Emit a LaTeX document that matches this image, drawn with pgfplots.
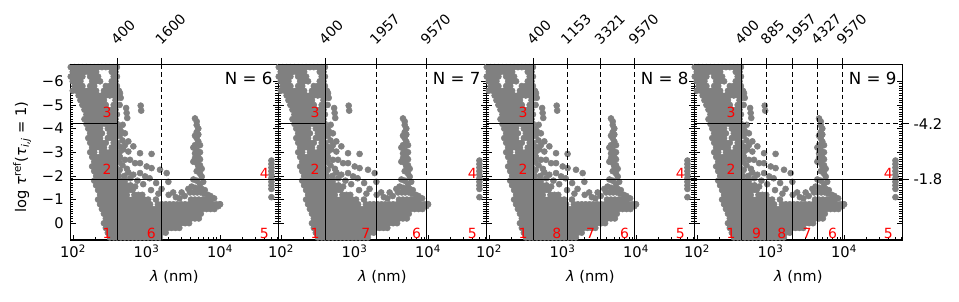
\documentclass[border=0pt]{standalone}
\usepackage{pgfplots}
\pgfplotsset{compat=1.18}
\usepackage{pgfplotstable}
\usepackage{fontspec}
\setmainfont{DejaVu Sans}
\definecolor{ptgray}{RGB}{128,128,128}
\definecolor{lblred}{RGB}{255,0,0}

\pgfplotstableread[row sep=\\]{
x y\\
93 -6.6\\ 105 -6.6\\ 119 -6.6\\ 134 -6.6\\ 152 -6.6\\ 171 -6.6\\ 194 -6.6\\ 219 -6.6\\ 247 -6.6\\ 279 -6.6\\ 316 -6.6\\ 357 -6.6\\ 395 -6.6\\
99 -6.4\\ 112 -6.4\\ 126 -6.4\\ 143 -6.4\\ 161 -6.4\\ 182 -6.4\\ 206 -6.4\\ 336 -6.4\\ 378 -6.4\\
93 -6.2\\ 105 -6.2\\ 119 -6.2\\ 134 -6.2\\ 171 -6.2\\ 194 -6.2\\ 219 -6.2\\ 357 -6.2\\ 395 -6.2\\
99 -6.0\\ 112 -6.0\\ 126 -6.0\\ 182 -6.0\\ 206 -6.0\\ 233 -6.0\\ 336 -6.0\\ 378 -6.0\\
105 -5.8\\ 119 -5.8\\ 134 -5.8\\ 171 -5.8\\ 194 -5.8\\ 279 -5.8\\ 316 -5.8\\ 357 -5.8\\ 395 -5.8\\
99 -5.6\\ 112 -5.6\\ 126 -5.6\\ 143 -5.6\\ 161 -5.6\\ 182 -5.6\\ 206 -5.6\\ 263 -5.6\\ 297 -5.6\\ 336 -5.6\\ 378 -5.6\\ 420 -5.6\\
119 -5.4\\ 134 -5.4\\ 152 -5.4\\ 171 -5.4\\ 194 -5.4\\ 219 -5.4\\ 247 -5.4\\ 279 -5.4\\ 316 -5.4\\ 357 -5.4\\ 395 -5.4\\
126 -5.2\\ 143 -5.2\\ 161 -5.2\\ 182 -5.2\\ 206 -5.2\\ 233 -5.2\\ 263 -5.2\\ 378 -5.2\\
134 -5.0\\ 152 -5.0\\ 171 -5.0\\ 194 -5.0\\ 219 -5.0\\ 247 -5.0\\ 279 -5.0\\ 357 -5.0\\ 395 -5.0\\
143 -4.8\\ 161 -4.8\\ 182 -4.8\\ 206 -4.8\\ 233 -4.8\\ 263 -4.8\\ 297 -4.8\\ 336 -4.8\\ 378 -4.8\\
152 -4.6\\ 171 -4.6\\ 194 -4.6\\ 219 -4.6\\ 247 -4.6\\ 279 -4.6\\ 316 -4.6\\ 357 -4.6\\ 395 -4.6\\
143 -4.4\\ 161 -4.4\\ 182 -4.4\\ 206 -4.4\\ 233 -4.4\\ 263 -4.4\\ 297 -4.4\\ 336 -4.4\\ 378 -4.4\\
152 -4.2\\ 171 -4.2\\ 194 -4.2\\ 219 -4.2\\ 247 -4.2\\ 279 -4.2\\ 316 -4.2\\ 357 -4.2\\ 395 -4.2\\
161 -4.0\\ 182 -4.0\\ 206 -4.0\\ 233 -4.0\\ 297 -4.0\\ 336 -4.0\\ 378 -4.0\\
171 -3.8\\ 194 -3.8\\ 219 -3.8\\ 247 -3.8\\ 316 -3.8\\ 357 -3.8\\ 395 -3.8\\
161 -3.6\\ 182 -3.6\\ 206 -3.6\\ 233 -3.6\\ 297 -3.6\\ 336 -3.6\\ 378 -3.6\\
171 -3.4\\ 194 -3.4\\ 219 -3.4\\ 247 -3.4\\ 279 -3.4\\ 357 -3.4\\ 395 -3.4\\
182 -3.2\\ 206 -3.2\\ 233 -3.2\\ 263 -3.2\\ 336 -3.2\\ 378 -3.2\\
171 -3.0\\ 194 -3.0\\ 247 -3.0\\ 279 -3.0\\ 316 -3.0\\ 357 -3.0\\ 395 -3.0\\
182 -2.8\\ 206 -2.8\\ 233 -2.8\\ 263 -2.8\\ 297 -2.8\\ 336 -2.8\\ 378 -2.8\\
194 -2.6\\ 219 -2.6\\ 247 -2.6\\ 279 -2.6\\ 316 -2.6\\ 357 -2.6\\ 395 -2.6\\
182 -2.4\\ 206 -2.4\\ 233 -2.4\\ 263 -2.4\\ 297 -2.4\\ 336 -2.4\\ 378 -2.4\\
194 -2.2\\ 219 -2.2\\ 247 -2.2\\ 279 -2.2\\ 316 -2.2\\ 357 -2.2\\ 395 -2.2\\
206 -2.0\\ 233 -2.0\\ 263 -2.0\\ 297 -2.0\\ 336 -2.0\\ 378 -2.0\\ 420 -2.0\\
194 -1.8\\ 219 -1.8\\ 247 -1.8\\ 279 -1.8\\ 316 -1.8\\ 357 -1.8\\ 395 -1.8\\ 446 -1.8\\ 504 -1.8\\
206 -1.6\\ 233 -1.6\\ 263 -1.6\\ 297 -1.6\\ 336 -1.6\\ 378 -1.6\\ 420 -1.6\\ 474 -1.6\\ 536 -1.6\\ 606 -1.6\\
219 -1.4\\ 247 -1.4\\ 279 -1.4\\ 316 -1.4\\ 357 -1.4\\ 395 -1.4\\ 446 -1.4\\ 504 -1.4\\ 570 -1.4\\ 644 -1.4\\
233 -1.2\\ 263 -1.2\\ 297 -1.2\\ 336 -1.2\\ 378 -1.2\\ 420 -1.2\\ 474 -1.2\\ 536 -1.2\\ 685 -1.2\\ 774 -1.2\\ 874 -1.2\\
219 -1.0\\ 247 -1.0\\ 279 -1.0\\ 316 -1.0\\ 357 -1.0\\ 395 -1.0\\ 446 -1.0\\ 504 -1.0\\ 570 -1.0\\ 644 -1.0\\ 727 -1.0\\ 822 -1.0\\ 929 -1.0\\ 1050 -1.0\\ 1340 -1.0\\ 4026 -1.0\\ 4549 -1.0\\ 5140 -1.0\\ 5808 -1.0\\ 6563 -1.0\\ 7417 -1.0\\
233 -0.8\\ 263 -0.8\\ 297 -0.8\\ 336 -0.8\\ 378 -0.8\\ 420 -0.8\\ 474 -0.8\\ 536 -0.8\\ 606 -0.8\\ 685 -0.8\\ 774 -0.8\\ 874 -0.8\\ 988 -0.8\\ 1116 -0.8\\ 1425 -0.8\\ 1610 -0.8\\ 1820 -0.8\\ 2056 -0.8\\ 2324 -0.8\\ 2626 -0.8\\ 2967 -0.8\\ 3353 -0.8\\ 3789 -0.8\\ 4281 -0.8\\ 4838 -0.8\\ 5467 -0.8\\ 6177 -0.8\\ 6980 -0.8\\ 7888 -0.8\\ 8913 -0.8\\ 9900 -0.8\\
247 -0.6\\ 279 -0.6\\ 316 -0.6\\ 357 -0.6\\ 395 -0.6\\ 446 -0.6\\ 504 -0.6\\ 570 -0.6\\ 644 -0.6\\ 727 -0.6\\ 822 -0.6\\ 929 -0.6\\ 1050 -0.6\\ 1186 -0.6\\ 1340 -0.6\\ 1514 -0.6\\ 1711 -0.6\\ 1934 -0.6\\ 2185 -0.6\\ 2469 -0.6\\ 2790 -0.6\\ 3153 -0.6\\ 3563 -0.6\\ 4026 -0.6\\ 4549 -0.6\\ 5140 -0.6\\ 5808 -0.6\\ 6563 -0.6\\ 7417 -0.6\\ 8381 -0.6\\
263 -0.4\\ 297 -0.4\\ 336 -0.4\\ 378 -0.4\\ 420 -0.4\\ 474 -0.4\\ 536 -0.4\\ 606 -0.4\\ 685 -0.4\\ 774 -0.4\\ 874 -0.4\\ 988 -0.4\\ 1116 -0.4\\ 1261 -0.4\\ 1425 -0.4\\ 1610 -0.4\\ 1820 -0.4\\ 2056 -0.4\\ 2324 -0.4\\ 2626 -0.4\\ 2967 -0.4\\ 3353 -0.4\\ 3789 -0.4\\ 4281 -0.4\\ 4838 -0.4\\ 5467 -0.4\\
279 -0.2\\ 316 -0.2\\ 357 -0.2\\ 395 -0.2\\ 446 -0.2\\ 504 -0.2\\ 570 -0.2\\ 644 -0.2\\ 727 -0.2\\ 822 -0.2\\ 929 -0.2\\ 1050 -0.2\\ 1186 -0.2\\ 1340 -0.2\\ 1514 -0.2\\ 1711 -0.2\\ 1934 -0.2\\ 2185 -0.2\\ 2469 -0.2\\ 2790 -0.2\\ 3153 -0.2\\ 3563 -0.2\\ 4026 -0.2\\ 4549 -0.2\\ 5140 -0.2\\
263 0.0\\ 297 0.0\\ 336 0.0\\ 378 0.0\\ 420 0.0\\ 474 0.0\\ 536 0.0\\ 606 0.0\\ 685 0.0\\ 774 0.0\\ 874 0.0\\ 988 0.0\\ 1116 0.0\\ 1261 0.0\\ 1425 0.0\\ 1610 0.0\\ 1820 0.0\\ 2056 0.0\\ 2324 0.0\\ 2626 0.0\\ 2967 0.0\\ 3353 0.0\\ 3789 0.0\\
279 0.2\\ 316 0.2\\ 357 0.2\\ 395 0.2\\ 446 0.2\\ 504 0.2\\ 570 0.2\\ 644 0.2\\ 727 0.2\\ 822 0.2\\ 929 0.2\\ 1050 0.2\\ 1186 0.2\\ 1340 0.2\\ 1514 0.2\\ 1711 0.2\\ 1934 0.2\\ 2185 0.2\\ 2469 0.2\\ 2790 0.2\\
297 0.4\\ 336 0.4\\ 378 0.4\\ 420 0.4\\ 474 0.4\\ 536 0.4\\ 606 0.4\\ 685 0.4\\ 774 0.4\\ 874 0.4\\ 988 0.4\\ 1116 0.4\\ 1261 0.4\\ 1425 0.4\\ 1610 0.4\\ 1820 0.4\\
316 0.6\\ 357 0.6\\ 395 0.6\\ 446 0.6\\ 504 0.6\\ 570 0.6\\ 644 0.6\\ 727 0.6\\ 822 0.6\\ 929 0.6\\ 1050 0.6\\ 1186 0.6\\ 1340 0.6\\ 1514 0.6\\
9470 -0.72\\ 10000 -0.8\\
435 -5.5\\ 445 -5.3\\ 430 -5.0\\ 527 -4.87\\ 536 -4.66\\ 546 -4.45\\ 832 -4.97\\ 845 -4.76\\ 473 -4.16\\ 425 -4.0\\ 445 -3.9\\ 507 -3.8\\ 430 -3.7\\ 470 -3.5\\ 565 -3.46\\ 507 -3.3\\ 425 -3.25\\ 661 -3.25\\ 483 -3.12\\ 565 -3.03\\ 430 -3.0\\ 815 -2.96\\ 1170 -2.93\\ 435 -2.8\\ 507 -2.68\\ 595 -2.68\\ 425 -2.6\\ 698 -2.54\\ 815 -2.54\\ 470 -2.45\\ 1004 -2.4\\ 1170 -2.33\\ 540 -2.3\\ 1524 -2.26\\ 430 -2.25\\ 565 -2.15\\ 815 -2.12\\ 1878 -2.12\\ 661 -2.05\\ 955 -1.98\\ 500 -2.0\\ 600 -1.9\\ 750 -1.8\\ 1100 -1.9\\ 900 -1.65\\ 1350 -1.7\\ 700 -1.55\\ 1600 -1.45\\ 1150 -1.4\\ 2000 -1.2\\ 1450 -1.25\\ 2500 -1.1\\ 2300 -1.3\\ 2800 -1.05\\ 3000 -1.3\\ 3700 -1.45\\ 3300 -1.15\\ 1980 -1.75\\
4560 -4.43\\ 4810 -4.3\\ 4810 -4.15\\ 5060 -4.0\\ 4810 -3.85\\ 5060 -3.75\\ 4560 -3.7\\ 4800 -3.6\\ 5060 -3.45\\ 4560 -3.3\\ 5335 -3.3\\ 4330 -3.2\\ 4810 -3.1\\ 5335 -3.0\\ 4560 -2.95\\ 5060 -2.8\\ 4560 -2.75\\ 5335 -2.7\\ 4330 -2.6\\ 4810 -2.55\\ 5335 -2.45\\ 5060 -2.4\\ 5630 -2.3\\ 4810 -2.2\\ 5335 -2.1\\ 5630 -1.97\\ 4330 -1.85\\ 4800 -1.8\\ 5900 -1.75\\ 5335 -1.65\\ 4100 -1.55\\ 4560 -1.5\\ 5060 -1.45\\ 5630 -1.45\\ 6200 -1.4\\ 3900 -1.3\\ 4400 -1.3\\ 4900 -1.3\\ 5500 -1.3\\ 6100 -1.25\\ 6800 -1.2\\ 7400 -1.15\\ 8300 -1.05\\
50000 -2.65\\ 50000 -2.5\\ 50000 -2.35\\ 50000 -2.2\\ 50000 -2.05\\ 50000 -1.9\\ 50000 -1.75\\ 50000 -1.6\\ 50000 -1.45\\ 50000 -1.1\\
}\cloud

\tikzset{
  sline/.style={black, line width=0.6pt},
  dline/.style={black, line width=0.6pt, dash pattern=on 3.3pt off 2.4pt},
  rlab/.style={anchor=south east, inner sep=0pt, text=lblred, font=\fontsize{10.5}{12}\selectfont, xshift=-4.1pt},
  rrlab/.style={anchor=south east, inner sep=0pt, text=lblred, font=\fontsize{10.5}{12}\selectfont},
  nlab/.style={anchor=north east, inner sep=0pt, font=\fontsize{12.5}{15}\selectfont, xshift=-4.2pt, yshift=-5.4pt},
}

\begin{document}
\begin{tikzpicture}
\path[use as bounding box] (0pt,-226.5pt) rectangle (719.25pt,0pt);

% ---------- Panel N = 6 ----------
\begin{axis}[at={(52.725pt,-180pt)}, anchor=south west,
    scale only axis, width=156pt, height=131.625pt,
    xmode=log, xmin=91.7, xmax=62000,
    ymin=-6.71, ymax=0.71, y dir=reverse,
    xtick={100,1000,10000},
    xticklabels={10\textsuperscript{2},10\textsuperscript{3},10\textsuperscript{4}},
    minor xtick={200,300,400,500,600,700,800,900,2000,3000,4000,5000,6000,7000,8000,9000,20000,30000,40000,50000,60000},
    ytick={-6,-5,-4,-3,-2,-1,0},
    minor y tick num=9,
    xtick pos=bottom, ytick pos=both, tick align=inside,
    major tick length=4pt, minor tick length=2.3pt,
    every tick/.style={black, line width=0.5pt},
    axis line style={line width=1.0pt},
    tick label style={font=\fontsize{11}{13}\selectfont},
    yticklabel style={xshift=-1.5pt},
    label style={font=\fontsize{11}{13}\selectfont},
    xlabel={\textit{λ} (nm)},
    xlabel style={at={(axis description cs:0.5,-0.211)}, anchor=center},
    yticklabels={−6,−5,−4,−3,−2,−1,0},
    ylabel={log \textit{τ}\textsuperscript{ref}(\textit{τ}\textsubscript{\textit{i,j}} = 1)},
    ylabel style={at={(axis description cs:-0.232,0.473)}, anchor=center}]
\addplot[only marks, mark=*, mark size=2.25pt, color=ptgray] table {\cloud};
\end{axis}
\begin{axis}[at={(52.725pt,-180pt)}, anchor=south west,
    scale only axis, width=156pt, height=131.625pt,
    xmode=log, xmin=91.7, xmax=62000,
    ymin=-6.71, ymax=0.71, y dir=reverse,
    axis x line*=top, hide y axis, xminorticks=false,
    tick align=outside, major tick length=5pt,
    every tick/.style={black, line width=0.6pt},
    axis line style={line width=1.0pt},
    xticklabel shift=4.5pt,
    xticklabel style={rotate=45, anchor=south west, font=\fontsize{10.5}{12.5}\selectfont},
    xtick={400,1600}, xticklabels={400,1600}]
\addplot[sline] coordinates {(400,-6.71) (400,0.71)};
\addplot[sline] coordinates {(91.7,-4.2) (400,-4.2)};
\addplot[sline] coordinates {(91.7,-1.85) (62000,-1.85)};
\addplot[dline] coordinates {(1600,-6.71) (1600,-1.85)};
\addplot[sline] coordinates {(1600,-1.85) (1600,0.71)};
\node[rlab] at (axis cs:400,-4.43) {3};
\node[rlab] at (axis cs:400,-2.03) {2};
\node[rlab] at (axis cs:400,0.647) {1};
\node[rlab] at (axis cs:1600,0.647) {6};
\node[rrlab] at (axis cs:46500,-1.89) {4};
\node[rrlab] at (axis cs:46500,0.647) {5};
\node[nlab] at (rel axis cs:1,1) {N = 6};
\end{axis}

% ---------- Panel N = 7 ----------
\begin{axis}[at={(208.725pt,-180pt)}, anchor=south west,
    scale only axis, width=156pt, height=131.625pt,
    xmode=log, xmin=91.7, xmax=62000,
    ymin=-6.71, ymax=0.71, y dir=reverse,
    xtick={100,1000,10000},
    xticklabels={10\textsuperscript{2},10\textsuperscript{3},10\textsuperscript{4}},
    minor xtick={200,300,400,500,600,700,800,900,2000,3000,4000,5000,6000,7000,8000,9000,20000,30000,40000,50000,60000},
    ytick={-6,-5,-4,-3,-2,-1,0},
    minor y tick num=9,
    xtick pos=bottom, ytick pos=both, tick align=inside,
    major tick length=4pt, minor tick length=2.3pt,
    every tick/.style={black, line width=0.5pt},
    axis line style={line width=1.0pt},
    tick label style={font=\fontsize{11}{13}\selectfont},
    label style={font=\fontsize{11}{13}\selectfont},
    xlabel={\textit{λ} (nm)},
    xlabel style={at={(axis description cs:0.5,-0.211)}, anchor=center},
    yticklabels={}]
\addplot[only marks, mark=*, mark size=2.25pt, color=ptgray] table {\cloud};
\end{axis}
\begin{axis}[at={(208.725pt,-180pt)}, anchor=south west,
    scale only axis, width=156pt, height=131.625pt,
    xmode=log, xmin=91.7, xmax=62000,
    ymin=-6.71, ymax=0.71, y dir=reverse,
    axis x line*=top, hide y axis, xminorticks=false,
    tick align=outside, major tick length=5pt,
    every tick/.style={black, line width=0.6pt},
    axis line style={line width=1.0pt},
    xticklabel shift=4.5pt,
    xticklabel style={rotate=45, anchor=south west, font=\fontsize{10.5}{12.5}\selectfont},
    xtick={400,1957,9570}, xticklabels={400,1957,9570}]
\addplot[sline] coordinates {(400,-6.71) (400,0.71)};
\addplot[sline] coordinates {(91.7,-4.2) (400,-4.2)};
\addplot[sline] coordinates {(91.7,-1.85) (62000,-1.85)};
\addplot[dline] coordinates {(1957,-6.71) (1957,-1.85)};
\addplot[sline] coordinates {(1957,-1.85) (1957,0.71)};
\addplot[dline] coordinates {(9570,-6.71) (9570,-1.85)};
\addplot[sline] coordinates {(9570,-1.85) (9570,0.71)};
\node[rlab] at (axis cs:400,-4.43) {3};
\node[rlab] at (axis cs:400,-2.03) {2};
\node[rlab] at (axis cs:400,0.647) {1};
\node[rlab] at (axis cs:1957,0.647) {7};
\node[rlab] at (axis cs:9570,0.647) {6};
\node[rrlab] at (axis cs:46500,-1.89) {4};
\node[rrlab] at (axis cs:46500,0.647) {5};
\node[nlab] at (rel axis cs:1,1) {N = 7};
\end{axis}

% ---------- Panel N = 8 ----------
\begin{axis}[at={(364.725pt,-180pt)}, anchor=south west,
    scale only axis, width=156pt, height=131.625pt,
    xmode=log, xmin=91.7, xmax=62000,
    ymin=-6.71, ymax=0.71, y dir=reverse,
    xtick={100,1000,10000},
    xticklabels={10\textsuperscript{2},10\textsuperscript{3},10\textsuperscript{4}},
    minor xtick={200,300,400,500,600,700,800,900,2000,3000,4000,5000,6000,7000,8000,9000,20000,30000,40000,50000,60000},
    ytick={-6,-5,-4,-3,-2,-1,0},
    minor y tick num=9,
    xtick pos=bottom, ytick pos=both, tick align=inside,
    major tick length=4pt, minor tick length=2.3pt,
    every tick/.style={black, line width=0.5pt},
    axis line style={line width=1.0pt},
    tick label style={font=\fontsize{11}{13}\selectfont},
    label style={font=\fontsize{11}{13}\selectfont},
    xlabel={\textit{λ} (nm)},
    xlabel style={at={(axis description cs:0.5,-0.211)}, anchor=center},
    yticklabels={}]
\addplot[only marks, mark=*, mark size=2.25pt, color=ptgray] table {\cloud};
\end{axis}
\begin{axis}[at={(364.725pt,-180pt)}, anchor=south west,
    scale only axis, width=156pt, height=131.625pt,
    xmode=log, xmin=91.7, xmax=62000,
    ymin=-6.71, ymax=0.71, y dir=reverse,
    axis x line*=top, hide y axis, xminorticks=false,
    tick align=outside, major tick length=5pt,
    every tick/.style={black, line width=0.6pt},
    axis line style={line width=1.0pt},
    xticklabel shift=4.5pt,
    xticklabel style={rotate=45, anchor=south west, font=\fontsize{10.5}{12.5}\selectfont},
    xtick={400,1153,3321,9570}, xticklabels={400,1153,3321,9570}]
\addplot[sline] coordinates {(400,-6.71) (400,0.71)};
\addplot[sline] coordinates {(91.7,-4.2) (400,-4.2)};
\addplot[sline] coordinates {(91.7,-1.85) (62000,-1.85)};
\addplot[dline] coordinates {(1153,-6.71) (1153,-1.85)};
\addplot[sline] coordinates {(1153,-1.85) (1153,0.71)};
\addplot[dline] coordinates {(3321,-6.71) (3321,-1.85)};
\addplot[sline] coordinates {(3321,-1.85) (3321,0.71)};
\addplot[dline] coordinates {(9570,-6.71) (9570,-1.85)};
\addplot[sline] coordinates {(9570,-1.85) (9570,0.71)};
\node[rlab] at (axis cs:400,-4.43) {3};
\node[rlab] at (axis cs:400,-2.03) {2};
\node[rlab] at (axis cs:400,0.647) {1};
\node[rlab] at (axis cs:1153,0.647) {8};
\node[rlab] at (axis cs:3321,0.647) {7};
\node[rlab] at (axis cs:9570,0.647) {6};
\node[rrlab] at (axis cs:46500,-1.89) {4};
\node[rrlab] at (axis cs:46500,0.647) {5};
\node[nlab] at (rel axis cs:1,1) {N = 8};
\end{axis}

% ---------- Panel N = 9 ----------
\begin{axis}[at={(520.725pt,-180pt)}, anchor=south west,
    scale only axis, width=156pt, height=131.625pt,
    xmode=log, xmin=91.7, xmax=62000,
    ymin=-6.71, ymax=0.71, y dir=reverse,
    xtick={100,1000,10000},
    xticklabels={10\textsuperscript{2},10\textsuperscript{3},10\textsuperscript{4}},
    minor xtick={200,300,400,500,600,700,800,900,2000,3000,4000,5000,6000,7000,8000,9000,20000,30000,40000,50000,60000},
    ytick={-6,-5,-4,-3,-2,-1,0},
    minor y tick num=9,
    xtick pos=bottom, ytick pos=both, tick align=inside,
    major tick length=4pt, minor tick length=2.3pt,
    every tick/.style={black, line width=0.5pt},
    axis line style={line width=1.0pt},
    tick label style={font=\fontsize{11}{13}\selectfont},
    label style={font=\fontsize{11}{13}\selectfont},
    xlabel={\textit{λ} (nm)},
    xlabel style={at={(axis description cs:0.5,-0.211)}, anchor=center},
    yticklabels={}]
\addplot[only marks, mark=*, mark size=2.25pt, color=ptgray] table {\cloud};
\end{axis}
\begin{axis}[at={(520.725pt,-180pt)}, anchor=south west,
    scale only axis, width=156pt, height=131.625pt,
    xmode=log, xmin=91.7, xmax=62000,
    ymin=-6.71, ymax=0.71, y dir=reverse,
    axis x line*=top, axis y line*=right,
    xminorticks=false, yminorticks=false,
    tick align=outside, major tick length=5pt,
    every tick/.style={black, line width=0.6pt},
    axis line style={line width=1.0pt},
    xticklabel shift=4.5pt,
    xticklabel style={rotate=45, anchor=south west, font=\fontsize{10.5}{12.5}\selectfont},
    yticklabel style={font=\fontsize{11}{13}\selectfont},
    xtick={400,885,1957,4327,9570}, xticklabels={400,885,1957,4327,9570},
    ytick={-4.2,-1.85}, yticklabels={-4.2,-1.8}]
\addplot[sline] coordinates {(400,-6.71) (400,0.71)};
\addplot[sline] coordinates {(91.7,-4.2) (400,-4.2)};
\addplot[dline] coordinates {(400,-4.2) (62000,-4.2)};
\addplot[sline] coordinates {(91.7,-1.85) (62000,-1.85)};
\addplot[dline] coordinates {(885,-6.71) (885,-1.85)};
\addplot[sline] coordinates {(885,-1.85) (885,0.71)};
\addplot[dline] coordinates {(1957,-6.71) (1957,-1.85)};
\addplot[sline] coordinates {(1957,-1.85) (1957,0.71)};
\addplot[dline] coordinates {(4327,-6.71) (4327,-1.85)};
\addplot[sline] coordinates {(4327,-1.85) (4327,0.71)};
\addplot[dline] coordinates {(9570,-6.71) (9570,-1.85)};
\addplot[sline] coordinates {(9570,-1.85) (9570,0.71)};
\node[rlab] at (axis cs:400,-4.43) {3};
\node[rlab] at (axis cs:400,-2.03) {2};
\node[rlab] at (axis cs:400,0.647) {1};
\node[rlab] at (axis cs:885,0.647) {9};
\node[rlab] at (axis cs:1957,0.647) {8};
\node[rlab] at (axis cs:4327,0.647) {7};
\node[rlab] at (axis cs:9570,0.647) {6};
\node[rrlab] at (axis cs:46500,-1.89) {4};
\node[rrlab] at (axis cs:46500,0.647) {5};
\node[nlab] at (rel axis cs:1,1) {N = 9};
\end{axis}
\end{tikzpicture}
\end{document}
